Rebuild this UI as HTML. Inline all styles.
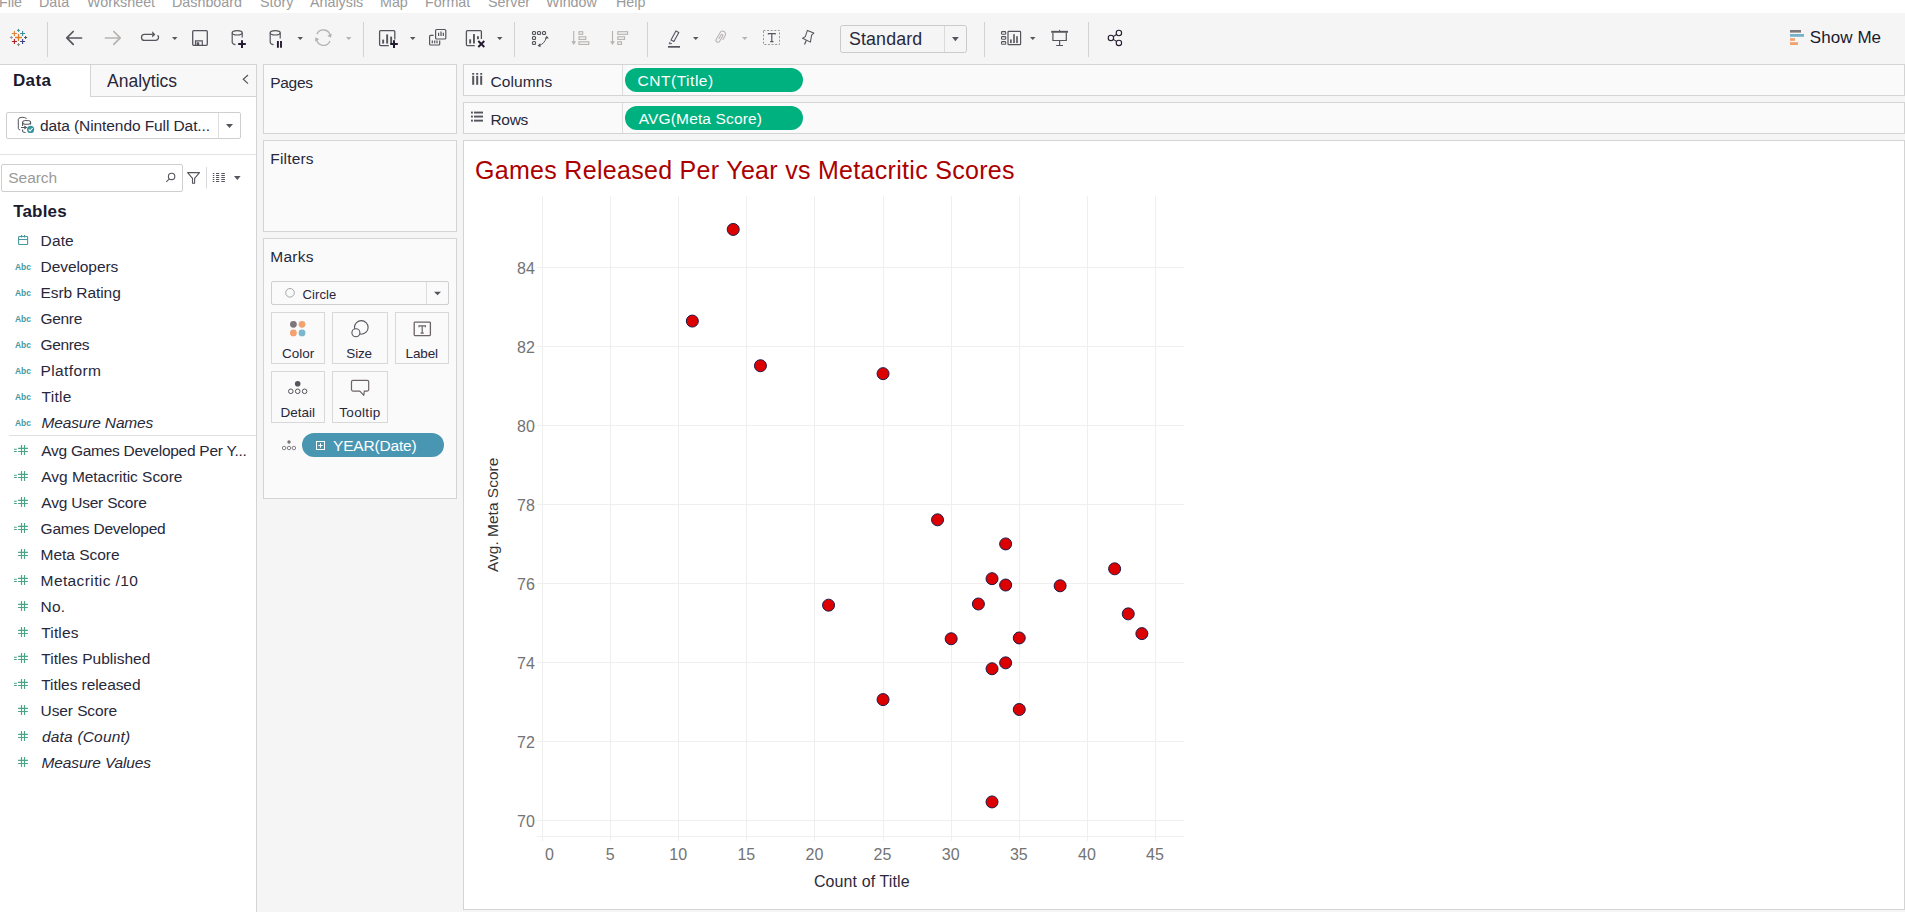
<!DOCTYPE html><html><head><meta charset="utf-8"><style>
html,body{margin:0;padding:0}
body{width:1905px;height:912px;overflow:hidden;position:relative;background:#f5f5f5;font-family:'Liberation Sans', sans-serif}
.t{position:absolute;white-space:nowrap}
.b{position:absolute}
svg{position:absolute;overflow:visible}
</style></head><body>
<div class="b" style="left:0px;top:0px;width:1905px;height:13px;background:#ffffff"></div>
<div class="t" style="left:-1px;top:-5.10px;font-size:14.3px;line-height:14.3px;color:#9a9a9a;font-weight:400;font-style:normal;">File</div>
<div class="t" style="left:39px;top:-5.10px;font-size:14.3px;line-height:14.3px;color:#9a9a9a;font-weight:400;font-style:normal;">Data</div>
<div class="t" style="left:87px;top:-5.10px;font-size:14.3px;line-height:14.3px;color:#9a9a9a;font-weight:400;font-style:normal;">Worksheet</div>
<div class="t" style="left:172px;top:-5.10px;font-size:14.3px;line-height:14.3px;color:#9a9a9a;font-weight:400;font-style:normal;">Dashboard</div>
<div class="t" style="left:260px;top:-5.10px;font-size:14.3px;line-height:14.3px;color:#9a9a9a;font-weight:400;font-style:normal;">Story</div>
<div class="t" style="left:310px;top:-5.10px;font-size:14.3px;line-height:14.3px;color:#9a9a9a;font-weight:400;font-style:normal;">Analysis</div>
<div class="t" style="left:380px;top:-5.10px;font-size:14.3px;line-height:14.3px;color:#9a9a9a;font-weight:400;font-style:normal;">Map</div>
<div class="t" style="left:425px;top:-5.10px;font-size:14.3px;line-height:14.3px;color:#9a9a9a;font-weight:400;font-style:normal;">Format</div>
<div class="t" style="left:488px;top:-5.10px;font-size:14.3px;line-height:14.3px;color:#9a9a9a;font-weight:400;font-style:normal;">Server</div>
<div class="t" style="left:546px;top:-5.10px;font-size:14.3px;line-height:14.3px;color:#9a9a9a;font-weight:400;font-style:normal;">Window</div>
<div class="t" style="left:616px;top:-5.10px;font-size:14.3px;line-height:14.3px;color:#9a9a9a;font-weight:400;font-style:normal;">Help</div>
<div class="b" style="left:0px;top:13px;width:1905px;height:51px;background:#f5f5f5"></div>
<div class="b" style="left:0px;top:64px;width:256px;height:848px;background:#ffffff"></div>
<div class="b" style="left:0px;top:64px;width:257px;height:1px;background:#d4d4d4"></div>
<div class="b" style="left:256px;top:64px;width:1px;height:848px;background:#d4d4d4"></div>
<div class="b" style="left:91px;top:65px;width:165px;height:31px;background:#f8f8f8"></div>
<div class="b" style="left:90px;top:64px;width:1px;height:32px;background:#d4d4d4"></div>
<div class="b" style="left:90px;top:96px;width:166px;height:1px;background:#d4d4d4"></div>
<div class="t" style="left:13px;top:71.61px;font-size:17px;line-height:17px;color:#1a1a2e;font-weight:700;font-style:normal;letter-spacing:0.333px;">Data</div>
<div class="t" style="left:107px;top:73.19px;font-size:17.5px;line-height:17.5px;color:#28283a;font-weight:400;font-style:normal;letter-spacing:0.0px;">Analytics</div>
<div class="b" style="left:6px;top:112px;width:235px;height:27px;background:#fff;border:1px solid #cfcfcf;box-sizing:border-box;border-radius:2px;"></div>
<div class="b" style="left:218px;top:113px;width:1px;height:25px;background:#dedede"></div>
<div class="t" style="left:40px;top:117.88px;font-size:15.5px;line-height:15.5px;color:#28283a;font-weight:400;font-style:normal;letter-spacing:-0.088px;">data (Nintendo Full Dat...</div>
<div class="b" style="left:0px;top:154px;width:256px;height:1px;background:#e3e3e3"></div>
<div class="b" style="left:1px;top:164px;width:182px;height:28px;background:#fff;border:1px solid #cfcfcf;box-sizing:border-box;border-radius:2px;"></div>
<div class="t" style="left:8.3px;top:169.88px;font-size:15.5px;line-height:15.5px;color:#9a9a9a;font-weight:400;font-style:normal;letter-spacing:-0.06px;">Search</div>
<div class="t" style="left:13.2px;top:202.61px;font-size:17px;line-height:17px;color:#1a1a2e;font-weight:700;font-style:normal;letter-spacing:0.16px;">Tables</div>
<div class="t" style="left:40.6px;top:232.88px;font-size:15.5px;line-height:15.5px;color:#28283a;font-weight:400;font-style:normal;letter-spacing:0.133px;">Date</div>
<div class="t" style="left:40.6px;top:258.88px;font-size:15.5px;line-height:15.5px;color:#28283a;font-weight:400;font-style:normal;letter-spacing:-0.078px;">Developers</div>
<div class="t" style="left:40.6px;top:284.88px;font-size:15.5px;line-height:15.5px;color:#28283a;font-weight:400;font-style:normal;letter-spacing:-0.08px;">Esrb Rating</div>
<div class="t" style="left:40.6px;top:310.88px;font-size:15.5px;line-height:15.5px;color:#28283a;font-weight:400;font-style:normal;letter-spacing:-0.35px;">Genre</div>
<div class="t" style="left:40.6px;top:336.88px;font-size:15.5px;line-height:15.5px;color:#28283a;font-weight:400;font-style:normal;letter-spacing:-0.36px;">Genres</div>
<div class="t" style="left:40.6px;top:362.88px;font-size:15.5px;line-height:15.5px;color:#28283a;font-weight:400;font-style:normal;letter-spacing:0.371px;">Platform</div>
<div class="t" style="left:41.6px;top:388.88px;font-size:15.5px;line-height:15.5px;color:#28283a;font-weight:400;font-style:normal;letter-spacing:0.275px;">Title</div>
<div class="t" style="left:41.6px;top:414.88px;font-size:15.5px;line-height:15.5px;color:#28283a;font-weight:400;font-style:normal;letter-spacing:-0.167px;"><i>Measure Names</i></div>
<div class="b" style="left:9px;top:435px;width:247px;height:1px;background:#e0e0e0"></div>
<div class="t" style="left:41.3px;top:442.88px;font-size:15.5px;line-height:15.5px;color:#28283a;font-weight:400;font-style:normal;letter-spacing:-0.27px;">Avg Games Developed Per Y...</div>
<div class="t" style="left:41.3px;top:468.88px;font-size:15.5px;line-height:15.5px;color:#28283a;font-weight:400;font-style:normal;letter-spacing:-0.037px;">Avg Metacritic Score</div>
<div class="t" style="left:41.3px;top:494.88px;font-size:15.5px;line-height:15.5px;color:#28283a;font-weight:400;font-style:normal;letter-spacing:-0.215px;">Avg User Score</div>
<div class="t" style="left:40.6px;top:520.88px;font-size:15.5px;line-height:15.5px;color:#28283a;font-weight:400;font-style:normal;letter-spacing:-0.236px;">Games Developed</div>
<div class="t" style="left:40.6px;top:546.88px;font-size:15.5px;line-height:15.5px;color:#28283a;font-weight:400;font-style:normal;letter-spacing:-0.033px;">Meta Score</div>
<div class="t" style="left:40.6px;top:572.88px;font-size:15.5px;line-height:15.5px;color:#28283a;font-weight:400;font-style:normal;letter-spacing:0.392px;">Metacritic /10</div>
<div class="t" style="left:40.6px;top:598.88px;font-size:15.5px;line-height:15.5px;color:#28283a;font-weight:400;font-style:normal;letter-spacing:0.2px;">No.</div>
<div class="t" style="left:41.3px;top:624.88px;font-size:15.5px;line-height:15.5px;color:#28283a;font-weight:400;font-style:normal;letter-spacing:0.14px;">Titles</div>
<div class="t" style="left:41.3px;top:650.88px;font-size:15.5px;line-height:15.5px;color:#28283a;font-weight:400;font-style:normal;letter-spacing:0.013px;">Titles Published</div>
<div class="t" style="left:41.3px;top:676.88px;font-size:15.5px;line-height:15.5px;color:#28283a;font-weight:400;font-style:normal;letter-spacing:-0.071px;">Titles released</div>
<div class="t" style="left:40.6px;top:702.88px;font-size:15.5px;line-height:15.5px;color:#28283a;font-weight:400;font-style:normal;letter-spacing:-0.1px;">User Score</div>
<div class="t" style="left:42px;top:728.88px;font-size:15.5px;line-height:15.5px;color:#28283a;font-weight:400;font-style:normal;letter-spacing:0.182px;"><i>data (Count)</i></div>
<div class="t" style="left:41.6px;top:754.88px;font-size:15.5px;line-height:15.5px;color:#28283a;font-weight:400;font-style:normal;letter-spacing:-0.154px;"><i>Measure Values</i></div>
<div class="b" style="left:263px;top:64px;width:194px;height:70px;background:#fafafa;border:1px solid #d4d4d4;box-sizing:border-box;border-radius:0px;"></div>
<div class="t" style="left:270.3px;top:74.88px;font-size:15.5px;line-height:15.5px;color:#28283a;font-weight:400;font-style:normal;letter-spacing:-0.325px;">Pages</div>
<div class="b" style="left:263px;top:140px;width:194px;height:92px;background:#fafafa;border:1px solid #d4d4d4;box-sizing:border-box;border-radius:0px;"></div>
<div class="t" style="left:270.3px;top:150.88px;font-size:15.5px;line-height:15.5px;color:#28283a;font-weight:400;font-style:normal;letter-spacing:0.167px;">Filters</div>
<div class="b" style="left:263px;top:238px;width:194px;height:261px;background:#fafafa;border:1px solid #d4d4d4;box-sizing:border-box;border-radius:0px;"></div>
<div class="t" style="left:270.3px;top:248.88px;font-size:15.5px;line-height:15.5px;color:#28283a;font-weight:400;font-style:normal;letter-spacing:0.25px;">Marks</div>
<div class="b" style="left:271px;top:281px;width:178px;height:24px;background:#fafafa;border:1px solid #cfcfcf;box-sizing:border-box;border-radius:2px;"></div>
<div class="b" style="left:426px;top:282px;width:1px;height:22px;background:#dedede"></div>
<div class="t" style="left:302.6px;top:288.00px;font-size:13px;line-height:13px;color:#28283a;font-weight:400;font-style:normal;letter-spacing:0.08px;">Circle</div>
<div class="b" style="left:271px;top:312px;width:54px;height:52px;background:#fafafa;border:1px solid #d8d8d8;box-sizing:border-box;border-radius:0px;"></div>
<div class="t" style="left:282px;top:346.57px;font-size:13.5px;line-height:13.5px;color:#28283a;font-weight:400;font-style:normal;letter-spacing:0.0px;">Color</div>
<div class="b" style="left:332px;top:312px;width:56px;height:52px;background:#fafafa;border:1px solid #d8d8d8;box-sizing:border-box;border-radius:0px;"></div>
<div class="t" style="left:346.3px;top:346.57px;font-size:13.5px;line-height:13.5px;color:#28283a;font-weight:400;font-style:normal;letter-spacing:-0.167px;">Size</div>
<div class="b" style="left:395px;top:312px;width:54px;height:52px;background:#fafafa;border:1px solid #d8d8d8;box-sizing:border-box;border-radius:0px;"></div>
<div class="t" style="left:405.5px;top:346.57px;font-size:13.5px;line-height:13.5px;color:#28283a;font-weight:400;font-style:normal;letter-spacing:-0.125px;">Label</div>
<div class="b" style="left:271px;top:371px;width:54px;height:52px;background:#fafafa;border:1px solid #d8d8d8;box-sizing:border-box;border-radius:0px;"></div>
<div class="t" style="left:280.5px;top:405.57px;font-size:13.5px;line-height:13.5px;color:#28283a;font-weight:400;font-style:normal;letter-spacing:0.02px;">Detail</div>
<div class="b" style="left:332px;top:371px;width:56px;height:52px;background:#fafafa;border:1px solid #d8d8d8;box-sizing:border-box;border-radius:0px;"></div>
<div class="t" style="left:339.3px;top:405.57px;font-size:13.5px;line-height:13.5px;color:#28283a;font-weight:400;font-style:normal;letter-spacing:0.317px;">Tooltip</div>
<div class="b" style="left:302px;top:433px;width:142px;height:24px;background:#4996b2;border-radius:12px"></div>
<div class="t" style="left:333px;top:437.88px;font-size:15.5px;line-height:15.5px;color:#fff;font-weight:400;font-style:normal;letter-spacing:-0.178px;">YEAR(Date)</div>
<div class="b" style="left:463px;top:64px;width:1442px;height:32px;background:#fafafa;border:1px solid #d4d4d4;box-sizing:border-box;border-radius:0px;"></div>
<div class="b" style="left:622px;top:65px;width:1px;height:30px;background:#dcdcdc"></div>
<div class="t" style="left:490.5px;top:73.88px;font-size:15.5px;line-height:15.5px;color:#28283a;font-weight:400;font-style:normal;letter-spacing:0.083px;">Columns</div>
<div class="b" style="left:463px;top:102px;width:1442px;height:32px;background:#fafafa;border:1px solid #d4d4d4;box-sizing:border-box;border-radius:0px;"></div>
<div class="b" style="left:622px;top:103px;width:1px;height:30px;background:#dcdcdc"></div>
<div class="t" style="left:490.5px;top:111.88px;font-size:15.5px;line-height:15.5px;color:#28283a;font-weight:400;font-style:normal;letter-spacing:-0.333px;">Rows</div>
<div class="b" style="left:625px;top:68px;width:178px;height:24px;background:#00b180;border-radius:12px"></div>
<div class="b" style="left:625px;top:106px;width:178px;height:24px;background:#00b180;border-radius:12px"></div>
<div class="t" style="left:637.5px;top:72.88px;font-size:15.5px;line-height:15.5px;color:#fff;font-weight:400;font-style:normal;letter-spacing:0.533px;">CNT(Title)</div>
<div class="t" style="left:638.8px;top:110.88px;font-size:15.5px;line-height:15.5px;color:#fff;font-weight:400;font-style:normal;letter-spacing:0.136px;">AVG(Meta Score)</div>
<div class="b" style="left:463px;top:140px;width:1442px;height:770px;background:#ffffff;border:1px solid #d4d4d4;box-sizing:border-box;border-radius:0px;"></div>
<div class="t" style="left:475px;top:158.14px;font-size:25px;line-height:25px;color:#ab0000;font-weight:400;font-style:normal;letter-spacing:0.3px">Games Released Per Year vs Metacritic Scores</div>
<svg style="left:0;top:0" width="1905" height="912" viewBox="0 0 1905 912"><line x1="542.5" y1="196" x2="542.5" y2="841" stroke="#efefef" stroke-width="1"/><line x1="610.5" y1="196" x2="610.5" y2="841" stroke="#efefef" stroke-width="1"/><line x1="678.5" y1="196" x2="678.5" y2="841" stroke="#efefef" stroke-width="1"/><line x1="746.5" y1="196" x2="746.5" y2="841" stroke="#efefef" stroke-width="1"/><line x1="814.5" y1="196" x2="814.5" y2="841" stroke="#efefef" stroke-width="1"/><line x1="883.5" y1="196" x2="883.5" y2="841" stroke="#efefef" stroke-width="1"/><line x1="951.5" y1="196" x2="951.5" y2="841" stroke="#efefef" stroke-width="1"/><line x1="1019.5" y1="196" x2="1019.5" y2="841" stroke="#efefef" stroke-width="1"/><line x1="1087.5" y1="196" x2="1087.5" y2="841" stroke="#efefef" stroke-width="1"/><line x1="1155.5" y1="196" x2="1155.5" y2="841" stroke="#efefef" stroke-width="1"/><line x1="537" y1="820.5" x2="1184" y2="820.5" stroke="#efefef" stroke-width="1"/><line x1="537" y1="741.5" x2="1184" y2="741.5" stroke="#efefef" stroke-width="1"/><line x1="537" y1="662.5" x2="1184" y2="662.5" stroke="#efefef" stroke-width="1"/><line x1="537" y1="583.5" x2="1184" y2="583.5" stroke="#efefef" stroke-width="1"/><line x1="537" y1="504.5" x2="1184" y2="504.5" stroke="#efefef" stroke-width="1"/><line x1="537" y1="425.5" x2="1184" y2="425.5" stroke="#efefef" stroke-width="1"/><line x1="537" y1="346.5" x2="1184" y2="346.5" stroke="#efefef" stroke-width="1"/><line x1="537" y1="267.5" x2="1184" y2="267.5" stroke="#efefef" stroke-width="1"/><line x1="537" y1="836.5" x2="1184" y2="836.5" stroke="#efefef" stroke-width="1"/><circle cx="733.21" cy="229.43" r="6" fill="#dd0000" stroke="#1c1a4a" stroke-width="1"/><circle cx="692.34" cy="321.09" r="6" fill="#dd0000" stroke="#1c1a4a" stroke-width="1"/><circle cx="760.45" cy="365.74" r="6" fill="#dd0000" stroke="#1c1a4a" stroke-width="1"/><circle cx="883.05" cy="373.64" r="6" fill="#dd0000" stroke="#1c1a4a" stroke-width="1"/><circle cx="937.54" cy="519.83" r="6" fill="#dd0000" stroke="#1c1a4a" stroke-width="1"/><circle cx="1005.65" cy="543.93" r="6" fill="#dd0000" stroke="#1c1a4a" stroke-width="1"/><circle cx="992.03" cy="578.70" r="6" fill="#dd0000" stroke="#1c1a4a" stroke-width="1"/><circle cx="1005.65" cy="585.02" r="6" fill="#dd0000" stroke="#1c1a4a" stroke-width="1"/><circle cx="1060.14" cy="585.81" r="6" fill="#dd0000" stroke="#1c1a4a" stroke-width="1"/><circle cx="1114.62" cy="568.82" r="6" fill="#dd0000" stroke="#1c1a4a" stroke-width="1"/><circle cx="828.56" cy="605.17" r="6" fill="#dd0000" stroke="#1c1a4a" stroke-width="1"/><circle cx="978.40" cy="603.99" r="6" fill="#dd0000" stroke="#1c1a4a" stroke-width="1"/><circle cx="1128.25" cy="613.86" r="6" fill="#dd0000" stroke="#1c1a4a" stroke-width="1"/><circle cx="1141.87" cy="633.62" r="6" fill="#dd0000" stroke="#1c1a4a" stroke-width="1"/><circle cx="951.16" cy="638.75" r="6" fill="#dd0000" stroke="#1c1a4a" stroke-width="1"/><circle cx="1019.27" cy="637.96" r="6" fill="#dd0000" stroke="#1c1a4a" stroke-width="1"/><circle cx="1005.65" cy="662.86" r="6" fill="#dd0000" stroke="#1c1a4a" stroke-width="1"/><circle cx="992.03" cy="668.78" r="6" fill="#dd0000" stroke="#1c1a4a" stroke-width="1"/><circle cx="883.05" cy="699.60" r="6" fill="#dd0000" stroke="#1c1a4a" stroke-width="1"/><circle cx="1019.27" cy="709.48" r="6" fill="#dd0000" stroke="#1c1a4a" stroke-width="1"/><circle cx="992.03" cy="801.93" r="6" fill="#dd0000" stroke="#1c1a4a" stroke-width="1"/><path d="M15.0 37.5H22.0M18.5 34.0V41.0" stroke="#e07b2a" stroke-width="1.3" fill="none"/><path d="M11.9 33.5H16.9M14.4 31.0V36.0" stroke="#e0822f" stroke-width="1.1" fill="none"/><path d="M20.1 33.5H25.1M22.6 31.0V36.0" stroke="#3b8f9c" stroke-width="1.1" fill="none"/><path d="M11.9 41.5H16.9M14.4 39.0V44.0" stroke="#b01a22" stroke-width="1.1" fill="none"/><path d="M20.1 41.5H25.1M22.6 39.0V44.0" stroke="#3b3f8a" stroke-width="1.1" fill="none"/><path d="M17.0 30.4H20.0M18.5 28.9V31.9" stroke="#3b95a3" stroke-width="1.0" fill="none"/><path d="M9.9 37.5H12.9M11.4 36.0V39.0" stroke="#9c93aa" stroke-width="1.0" fill="none"/><path d="M24.1 37.5H27.1M25.6 36.0V39.0" stroke="#555" stroke-width="1.0" fill="none"/><path d="M17.0 44.6H20.0M18.5 43.1V46.1" stroke="#8a8a8a" stroke-width="1.0" fill="none"/><path d="M47.5 22V57" stroke="#d2d2d2" stroke-width="1"/><path d="M363.5 22V57" stroke="#d2d2d2" stroke-width="1"/><path d="M514.5 22V57" stroke="#d2d2d2" stroke-width="1"/><path d="M647.5 22V57" stroke="#d2d2d2" stroke-width="1"/><path d="M984.5 22V57" stroke="#d2d2d2" stroke-width="1"/><path d="M1088.5 22V57" stroke="#d2d2d2" stroke-width="1"/><path d="M81.5 38H67M73.2 31.5L66.8 37.9L73.2 44.3" stroke="#55555d" stroke-width="1.7" fill="none" stroke-linecap="round" stroke-linejoin="round"/><path d="M105.5 38H120M113.8 31.5L120.2 37.9L113.8 44.3" stroke="#b6b2b0" stroke-width="1.7" fill="none" stroke-linecap="round" stroke-linejoin="round"/><path d="M152 34.4H144.5A3 3 0 0 0 144.5 40.4H155.5A3 3 0 0 0 157.6 35.2" stroke="#55555d" stroke-width="1.3" fill="none"/><path d="M152.2 31.2L155.4 34.4L152.2 37.6Z" fill="#55555d"/><path d="M172 37H177.5L174.75 40Z" fill="#55555d"/><path d="M297.5 37H303.0L300.25 40Z" fill="#55555d"/><path d="M346 37H351.5L348.75 40Z" fill="#b6b2b0"/><path d="M410 37H415.5L412.75 40Z" fill="#55555d"/><path d="M497 37H502.5L499.75 40Z" fill="#55555d"/><path d="M693 37H698.5L695.75 40Z" fill="#55555d"/><path d="M742 37H747.5L744.75 40Z" fill="#b6b2b0"/><path d="M1030 37H1035.5L1032.75 40Z" fill="#55555d"/><rect x="192.7" y="30.7" width="14.6" height="14.6" rx="1" stroke="#55555d" stroke-width="1.3" fill="none"/><path d="M195.5 45.5V40.9H202.3V45.5" stroke="#55555d" stroke-width="1.15" fill="none"/><rect x="196.6" y="42.3" width="2.6" height="3.4" fill="#55555d"/><ellipse cx="237.2" cy="32.8" rx="5" ry="2.2" stroke="#55555d" stroke-width="1.2" fill="none"/><path d="M232.2 32.8V42.3Q232.6 44.2 235.5 44.6M242.2 32.8V37.6" stroke="#55555d" stroke-width="1.2" fill="none"/><path d="M238.2 44.1H245.8M242 40.3V47.9" stroke="#241b30" stroke-width="2" fill="none"/><ellipse cx="275.2" cy="32.8" rx="5" ry="2.2" stroke="#55555d" stroke-width="1.2" fill="none"/><path d="M270.2 32.8V42.3Q270.6 44.2 273.5 44.6M280.2 32.8V38.4" stroke="#55555d" stroke-width="1.2" fill="none"/><path d="M277.9 41V47.8M281 41V47.8" stroke="#241b30" stroke-width="1.9" fill="none"/><path d="M316.9 34.2A7 7 0 0 1 330.2 35.6M330 41A7 7 0 0 1 316.6 39.4" stroke="#b6b2b0" stroke-width="1.3" fill="none"/><path d="M331.8 33.5L331 37.8L327.3 35.7Z M314.9 41.4L315.4 37.3L319.3 39.2Z" fill="#b6b2b0"/><path d="M394.8 39.6V31.6A1 1 0 0 0 393.8 30.6H380.6A1 1 0 0 0 379.6 31.6V44.6A1 1 0 0 0 380.6 45.6H388.8" stroke="#55555d" stroke-width="1.3" fill="none"/><rect x="382.20000000000005" y="39.6" width="1.9" height="4" fill="#55555d"/><rect x="386.20000000000005" y="34.4" width="1.9" height="9.2" fill="#55555d"/><rect x="390.20000000000005" y="36.6" width="1.9" height="7" fill="#55555d"/><path d="M390.2 44.1H397.8M394 40.3V47.9" stroke="#241b30" stroke-width="2" fill="none"/><rect x="435.6" y="29.5" width="10.2" height="9.5" rx="1" stroke="#55555d" stroke-width="1.2" fill="none"/><path d="M438.6 36V32.8M441 36V31.4M443.3 36V32.8" stroke="#55555d" stroke-width="1.2" fill="none"/><path d="M433.6 35.3H430.6A1 1 0 0 0 429.6 36.3V44A1 1 0 0 0 430.6 45H438.7A1 1 0 0 0 439.7 44V40.4" stroke="#55555d" stroke-width="1.2" fill="none"/><path d="M432.3 40.6V43.2M434.7 40.6V43.2M437 40.6V43.2" stroke="#55555d" stroke-width="1.2" fill="none"/><path d="M481.4 39V31.6A1 1 0 0 0 480.4 30.6H467.4A1 1 0 0 0 466.4 31.6V44.6A1 1 0 0 0 467.4 45.6H474.8" stroke="#55555d" stroke-width="1.3" fill="none"/><rect x="469.2" y="39.3" width="1.9" height="4.2" fill="#55555d"/><rect x="473" y="34.1" width="1.9" height="9.4" fill="#55555d"/><rect x="477" y="36.2" width="1.9" height="3" fill="#55555d"/><path d="M478.3 41L484.3 47M484.3 41L478.3 47" stroke="#241b30" stroke-width="1.9" fill="none"/><rect x="532.5" y="31.5" width="3" height="3" rx="0.9" stroke="#55555d" stroke-width="1.2" fill="none"/><rect x="537.5" y="31.5" width="3" height="3" rx="0.9" stroke="#55555d" stroke-width="1.2" fill="none"/><rect x="542.5" y="31.5" width="3" height="3" rx="0.9" stroke="#55555d" stroke-width="1.2" fill="none"/><rect x="532.5" y="36.5" width="3" height="3" rx="0.9" stroke="#55555d" stroke-width="1.2" fill="none"/><rect x="532.5" y="41.5" width="3" height="3" rx="0.9" stroke="#55555d" stroke-width="1.2" fill="none"/><path d="M538.6 45.6Q544.6 44 546.3 37.6" stroke="#55555d" stroke-width="1" fill="none"/><path d="M546.8 35.8L548.8 38.6L544.8 38.4Z M537.5 45.7L540.2 43.3L540.6 47.2Z" fill="#55555d"/><path d="M573.7 31V44" stroke="#b6b2b0" stroke-width="1.1" fill="none"/><path d="M571.3 41.3H576.1L573.7 45Z" fill="#b6b2b0"/><rect x="579" y="31.7" width="3.7" height="2.6" stroke="#b6b2b0" stroke-width="1.1" fill="none"/><rect x="579" y="36.8" width="6.8" height="2.6" stroke="#b6b2b0" stroke-width="1.1" fill="none"/><rect x="579" y="41.8" width="9.8" height="2.6" stroke="#b6b2b0" stroke-width="1.1" fill="none"/><path d="M612.5 31V44" stroke="#b6b2b0" stroke-width="1.1" fill="none"/><path d="M610.1 41.3H614.9L612.5 45Z" fill="#b6b2b0"/><rect x="617.8" y="31.7" width="9.8" height="2.6" stroke="#b6b2b0" stroke-width="1.1" fill="none"/><rect x="617.8" y="36.8" width="6.8" height="2.6" stroke="#b6b2b0" stroke-width="1.1" fill="none"/><rect x="617.8" y="41.8" width="3.7" height="2.6" stroke="#b6b2b0" stroke-width="1.1" fill="none"/><path d="M671 40L675.9 30.9L678.8 32.4L673.9 41.5Z" stroke="#55555d" stroke-width="1.1" fill="none" stroke-linejoin="round"/><path d="M670.2 41.8L669.2 43.8L671.9 43.6" stroke="#55555d" stroke-width="1" fill="none"/><rect x="668" y="46" width="12" height="1.7" fill="#55555d"/><path transform="translate(720.6 37.6) rotate(30) scale(0.82)" d="M-1.2 2.5V-3.3A1.2 1.2 0 0 1 1.2 -3.3V4.4A2.4 2.4 0 0 1 -3.6 4.4V-4.9A3.6 3.6 0 0 1 3.6 -4.9V1.2" stroke="#b6b2b0" stroke-width="1.25" fill="none"/><rect x="763.5" y="30.5" width="16" height="14" stroke="#9a9696" stroke-width="1" stroke-dasharray="2 1.6" fill="none"/><path d="M768.4 34.6V33.6H775.2V34.6M771.8 33.6V41.6M770.2 41.6H773.4" stroke="#55555d" stroke-width="1.2" fill="none"/><path d="M807.4 30.4L813.8 33.1L811.6 35.2L810.4 42.1L802.6 38.3L805.3 36.6Z" stroke="#55555d" stroke-width="1.05" fill="none" stroke-linejoin="round"/><path d="M806.4 40.3L804.5 44.6" stroke="#55555d" stroke-width="1.2" fill="none"/><rect x="840.5" y="25.5" width="126" height="27" rx="2" stroke="#cacaca" stroke-width="1" fill="#f5f5f5"/><path d="M944.5 26V52" stroke="#dadada" stroke-width="1"/><path d="M952 37H958.8L955.4 41.2Z" fill="#55555d"/><rect x="1001.5" y="31.6" width="4.2" height="2.6" rx="0.8" stroke="#55555d" stroke-width="1.1" fill="none"/><rect x="1001.5" y="36.6" width="4.2" height="2.6" rx="0.8" stroke="#55555d" stroke-width="1.1" fill="none"/><rect x="1001.5" y="41.6" width="4.2" height="2.6" rx="0.8" stroke="#55555d" stroke-width="1.1" fill="none"/><rect x="1008" y="31.4" width="12.6" height="13.3" rx="0.8" stroke="#55555d" stroke-width="1.2" fill="none"/><rect x="1010.1" y="39.4" width="1.6" height="3.7" fill="#55555d"/><rect x="1013.2" y="34.2" width="1.6" height="8.9" fill="#55555d"/><rect x="1016.2" y="36.2" width="1.6" height="6.9" fill="#55555d"/><path d="M1051.2 31.8H1068" stroke="#55555d" stroke-width="1.9"/><path d="M1052.9 32.5V40.5H1066.3V32.5M1059.6 40.5V45.4M1056.2 45.5H1063" stroke="#55555d" stroke-width="1.2" fill="none"/><path d="M1059.6 29.8V31" stroke="#55555d" stroke-width="1"/><circle cx="1118.9" cy="33" r="2.7" stroke="#241b30" stroke-width="1.1" fill="none"/><circle cx="1110.9" cy="38" r="2.7" stroke="#241b30" stroke-width="1.1" fill="none"/><circle cx="1118.9" cy="42.9" r="2.7" stroke="#241b30" stroke-width="1.1" fill="none"/><path d="M1113.3 36.6L1116.5 34.5M1113.3 39.4L1116.5 41.4" stroke="#241b30" stroke-width="1.05"/><rect x="1790" y="30" width="11" height="2.6" fill="#7f7a7c"/><rect x="1790" y="34" width="14" height="2.8" fill="#79b1c9"/><rect x="1790" y="38.2" width="5" height="2.6" fill="#f2a26d"/><rect x="1790" y="42.2" width="8" height="2.8" fill="#f2a26d"/><path d="M248 75L243.3 79.3L248 83.6" stroke="#55555d" stroke-width="1.2" fill="none"/><path d="M226 124H233L229.5 128Z" fill="#55555d"/><path d="M26.6 118.6Q25 117.3 22.2 117.3Q18.3 117.3 18.3 119.5V128.4Q18.3 129.6 20.2 130" stroke="#55555d" stroke-width="1" fill="none"/><ellipse cx="26.6" cy="122.4" rx="4" ry="1.9" stroke="#55555d" stroke-width="1.1" fill="none"/><path d="M30.6 122.4V124.4M22.6 122.4V126M22.6 129.5V131.4Q23 132.6 25.6 132.5M21 127.5H25.3" stroke="#55555d" stroke-width="1.1" fill="none"/><path d="M24.3 125.5L27.3 127.5L24.3 129.5Z" fill="#55555d"/><circle cx="30.6" cy="129.4" r="3.6" fill="#3a939f"/><path d="M28.7 129.5L30.1 130.9L32.6 128" stroke="#fff" stroke-width="1.1" fill="none"/><circle cx="171.6" cy="176.4" r="3.2" stroke="#55555d" stroke-width="1.1" fill="none"/><path d="M169.3 178.8L166.3 181.8" stroke="#55555d" stroke-width="1.1"/><path d="M187.6 172.6H199.5L194.6 178.3V183.2H192.5V178.3Z" stroke="#55555d" stroke-width="1.1" fill="none" stroke-linejoin="round"/><path d="M206.5 167V188.5" stroke="#d8d8d8" stroke-width="1"/><path d="M212.8 173.5H214.3M216 173.5H219.2M221.3 173.5H224.9" stroke="#55555d" stroke-width="1" fill="none"/><path d="M212.8 175.5H214.3M216 175.5H219.2M221.3 175.5H224.9" stroke="#55555d" stroke-width="1" fill="none"/><path d="M212.8 177.5H214.3M216 177.5H219.2M221.3 177.5H224.9" stroke="#55555d" stroke-width="1" fill="none"/><path d="M212.8 179.5H214.3M216 179.5H219.2M221.3 179.5H224.9" stroke="#55555d" stroke-width="1" fill="none"/><path d="M212.8 181.5H214.3M216 181.5H219.2M221.3 181.5H224.9" stroke="#55555d" stroke-width="1" fill="none"/><path d="M234 176H240.6L237.3 180Z" fill="#55555d"/><circle cx="290" cy="292.8" r="4.3" stroke="#a8a8a8" stroke-width="1" fill="none"/><path d="M434 291.8H441L437.5 295.3Z" fill="#55555d"/><circle cx="293.4" cy="324.3" r="3.4" fill="#7d7679"/><circle cx="302" cy="324.3" r="3.4" fill="#f2a16f"/><circle cx="293.4" cy="332.9" r="3.4" fill="#f2a16f"/><circle cx="302" cy="332.9" r="3.4" fill="#7ab6cc"/><circle cx="361.3" cy="327.4" r="6.8" stroke="#55555d" stroke-width="1.1" fill="none"/><circle cx="355.9" cy="332.7" r="4" stroke="#55555d" stroke-width="1.1" fill="#fafafa"/><rect x="414.2" y="322.2" width="16.2" height="13.4" rx="0.8" stroke="#6b6365" stroke-width="1.3" fill="none"/><path d="M419 327.2V325.9H425.4V327.2M422.2 325.9V333.1M420.6 333.1H423.8" stroke="#6b6365" stroke-width="1.2" fill="none"/><circle cx="297.7" cy="383.8" r="2.8" fill="#55555d"/><circle cx="290.8" cy="391.3" r="2.3" stroke="#55555d" stroke-width="1" fill="none"/><circle cx="297.7" cy="391.3" r="2.3" stroke="#55555d" stroke-width="1" fill="none"/><circle cx="304.6" cy="391.3" r="2.3" stroke="#55555d" stroke-width="1" fill="none"/><path d="M353 380.3H367.2A1.5 1.5 0 0 1 368.7 381.8V389.6A1.5 1.5 0 0 1 367.2 391.1H364.3L363.8 395.3L359.8 391.1H353A1.5 1.5 0 0 1 351.5 389.6V381.8A1.5 1.5 0 0 1 353 380.3Z" stroke="#6b6365" stroke-width="1.2" fill="none" stroke-linejoin="round"/><circle cx="289" cy="442" r="1.7" fill="#7a7478"/><circle cx="284.1" cy="448" r="1.75" stroke="#6e6a6e" stroke-width="0.85" fill="none"/><circle cx="289" cy="448" r="1.75" stroke="#6e6a6e" stroke-width="0.85" fill="none"/><circle cx="293.9" cy="448" r="1.75" stroke="#6e6a6e" stroke-width="0.85" fill="none"/><rect x="316.5" y="441.5" width="8" height="8" stroke="#fff" stroke-width="1" fill="none"/><path d="M318.3 445.5H322.7M320.5 443.3V447.7" stroke="#fff" stroke-width="1"/><rect x="472.2" y="73" width="2" height="1.7" fill="#55555d"/><rect x="472.2" y="75.8" width="2" height="9" fill="#55555d"/><rect x="476.2" y="73" width="2" height="1.7" fill="#55555d"/><rect x="476.2" y="75.8" width="2" height="9" fill="#55555d"/><rect x="480.2" y="73" width="2" height="1.7" fill="#55555d"/><rect x="480.2" y="75.8" width="2" height="9" fill="#55555d"/><rect x="471" y="111.6" width="1.9" height="1.9" fill="#55555d"/><rect x="474" y="111.6" width="9" height="1.9" fill="#55555d"/><rect x="471" y="115.6" width="1.9" height="1.9" fill="#55555d"/><rect x="474" y="115.6" width="9" height="1.9" fill="#55555d"/><rect x="471" y="119.7" width="1.9" height="1.9" fill="#55555d"/><rect x="474" y="119.7" width="9" height="1.9" fill="#55555d"/><rect x="18.6" y="236.5" width="9" height="8" rx="0.8" stroke="#46999f" stroke-width="1.1" fill="none"/><path d="M18.6 239.5H27.6M21.6 235V237.6M24.6 235V237.6" stroke="#46999f" stroke-width="1.1" fill="none"/><text x="15" y="270" font-family="Liberation Sans" font-weight="700" font-size="9.6" fill="#46999f" textLength="16" lengthAdjust="spacingAndGlyphs">Abc</text><text x="15" y="296" font-family="Liberation Sans" font-weight="700" font-size="9.6" fill="#46999f" textLength="16" lengthAdjust="spacingAndGlyphs">Abc</text><text x="15" y="322" font-family="Liberation Sans" font-weight="700" font-size="9.6" fill="#46999f" textLength="16" lengthAdjust="spacingAndGlyphs">Abc</text><text x="15" y="348" font-family="Liberation Sans" font-weight="700" font-size="9.6" fill="#46999f" textLength="16" lengthAdjust="spacingAndGlyphs">Abc</text><text x="15" y="374" font-family="Liberation Sans" font-weight="700" font-size="9.6" fill="#46999f" textLength="16" lengthAdjust="spacingAndGlyphs">Abc</text><text x="15" y="400" font-family="Liberation Sans" font-weight="700" font-size="9.6" fill="#46999f" textLength="16" lengthAdjust="spacingAndGlyphs">Abc</text><text x="15" y="426" font-family="Liberation Sans" font-weight="700" font-size="9.6" fill="#46999f" textLength="16" lengthAdjust="spacingAndGlyphs">Abc</text><path d="M14 449.3H16.8M14 451.5H16.8" stroke="#4aa585" stroke-width="1.1" fill="none"/><path d="M18.1 448.3H27.9M18.1 451.5H27.9M21.5 445V454.9M24.5 445V454.9" stroke="#4aa585" stroke-width="1.15" fill="none"/><path d="M14 475.3H16.8M14 477.5H16.8" stroke="#4aa585" stroke-width="1.1" fill="none"/><path d="M18.1 474.3H27.9M18.1 477.5H27.9M21.5 471V480.9M24.5 471V480.9" stroke="#4aa585" stroke-width="1.15" fill="none"/><path d="M14 501.3H16.8M14 503.5H16.8" stroke="#4aa585" stroke-width="1.1" fill="none"/><path d="M18.1 500.3H27.9M18.1 503.5H27.9M21.5 497V506.9M24.5 497V506.9" stroke="#4aa585" stroke-width="1.15" fill="none"/><path d="M14 527.3H16.8M14 529.5H16.8" stroke="#4aa585" stroke-width="1.1" fill="none"/><path d="M18.1 526.3H27.9M18.1 529.5H27.9M21.5 523V532.9M24.5 523V532.9" stroke="#4aa585" stroke-width="1.15" fill="none"/><path d="M18.1 552.3H27.9M18.1 555.5H27.9M21.5 549V558.9M24.5 549V558.9" stroke="#4aa585" stroke-width="1.15" fill="none"/><path d="M14 579.3H16.8M14 581.5H16.8" stroke="#4aa585" stroke-width="1.1" fill="none"/><path d="M18.1 578.3H27.9M18.1 581.5H27.9M21.5 575V584.9M24.5 575V584.9" stroke="#4aa585" stroke-width="1.15" fill="none"/><path d="M18.1 604.3H27.9M18.1 607.5H27.9M21.5 601V610.9M24.5 601V610.9" stroke="#4aa585" stroke-width="1.15" fill="none"/><path d="M18.1 630.3H27.9M18.1 633.5H27.9M21.5 627V636.9M24.5 627V636.9" stroke="#4aa585" stroke-width="1.15" fill="none"/><path d="M14 657.3H16.8M14 659.5H16.8" stroke="#4aa585" stroke-width="1.1" fill="none"/><path d="M18.1 656.3H27.9M18.1 659.5H27.9M21.5 653V662.9M24.5 653V662.9" stroke="#4aa585" stroke-width="1.15" fill="none"/><path d="M14 683.3H16.8M14 685.5H16.8" stroke="#4aa585" stroke-width="1.1" fill="none"/><path d="M18.1 682.3H27.9M18.1 685.5H27.9M21.5 679V688.9M24.5 679V688.9" stroke="#4aa585" stroke-width="1.15" fill="none"/><path d="M18.1 708.3H27.9M18.1 711.5H27.9M21.5 705V714.9M24.5 705V714.9" stroke="#4aa585" stroke-width="1.15" fill="none"/><path d="M18.1 734.3H27.9M18.1 737.5H27.9M21.5 731V740.9M24.5 731V740.9" stroke="#4aa585" stroke-width="1.15" fill="none"/><path d="M18.1 760.3H27.9M18.1 763.5H27.9M21.5 757V766.9M24.5 757V766.9" stroke="#4aa585" stroke-width="1.15" fill="none"/></svg>
<div class="t" style="left:517px;top:813.96px;font-size:16px;line-height:16px;color:#737373;font-weight:400;font-style:normal;">70</div>
<div class="t" style="left:517px;top:734.96px;font-size:16px;line-height:16px;color:#737373;font-weight:400;font-style:normal;">72</div>
<div class="t" style="left:517px;top:655.96px;font-size:16px;line-height:16px;color:#737373;font-weight:400;font-style:normal;">74</div>
<div class="t" style="left:517px;top:576.96px;font-size:16px;line-height:16px;color:#737373;font-weight:400;font-style:normal;">76</div>
<div class="t" style="left:517px;top:497.96px;font-size:16px;line-height:16px;color:#737373;font-weight:400;font-style:normal;">78</div>
<div class="t" style="left:517px;top:418.96px;font-size:16px;line-height:16px;color:#737373;font-weight:400;font-style:normal;">80</div>
<div class="t" style="left:517px;top:339.96px;font-size:16px;line-height:16px;color:#737373;font-weight:400;font-style:normal;">82</div>
<div class="t" style="left:517px;top:260.96px;font-size:16px;line-height:16px;color:#737373;font-weight:400;font-style:normal;">84</div>
<div class="t" style="left:545.0px;top:846.96px;font-size:16px;line-height:16px;color:#737373;font-weight:400;font-style:normal;">0</div>
<div class="t" style="left:605.7px;top:846.96px;font-size:16px;line-height:16px;color:#737373;font-weight:400;font-style:normal;">5</div>
<div class="t" style="left:669.3px;top:846.96px;font-size:16px;line-height:16px;color:#737373;font-weight:400;font-style:normal;">10</div>
<div class="t" style="left:737.4px;top:846.96px;font-size:16px;line-height:16px;color:#737373;font-weight:400;font-style:normal;">15</div>
<div class="t" style="left:805.5px;top:846.96px;font-size:16px;line-height:16px;color:#737373;font-weight:400;font-style:normal;">20</div>
<div class="t" style="left:873.6px;top:846.96px;font-size:16px;line-height:16px;color:#737373;font-weight:400;font-style:normal;">25</div>
<div class="t" style="left:941.8px;top:846.96px;font-size:16px;line-height:16px;color:#737373;font-weight:400;font-style:normal;">30</div>
<div class="t" style="left:1009.9px;top:846.96px;font-size:16px;line-height:16px;color:#737373;font-weight:400;font-style:normal;">35</div>
<div class="t" style="left:1078.0px;top:846.96px;font-size:16px;line-height:16px;color:#737373;font-weight:400;font-style:normal;">40</div>
<div class="t" style="left:1146.1px;top:846.96px;font-size:16px;line-height:16px;color:#737373;font-weight:400;font-style:normal;">45</div>
<div class="t" style="left:813.9px;top:874.46px;font-size:16px;line-height:16px;color:#2e2a3a;font-weight:400;font-style:normal;letter-spacing:0.108px;">Count of Title</div>
<div class="t" style="left:0;top:0;font-size:15.5px;line-height:15.5px;color:#333;transform-origin:0 0;transform:translate(485px,572px) rotate(-90deg)">Avg. Meta Score</div>
<div class="t" style="left:1809.8px;top:29.11px;font-size:17px;line-height:17px;color:#1a1a2e;font-weight:400;font-style:normal;letter-spacing:0.067px;">Show Me</div>
<div class="t" style="left:849px;top:30.93px;font-size:17.8px;line-height:17.8px;color:#28283a;font-weight:400;font-style:normal;letter-spacing:0.143px;">Standard</div>
</body></html>
